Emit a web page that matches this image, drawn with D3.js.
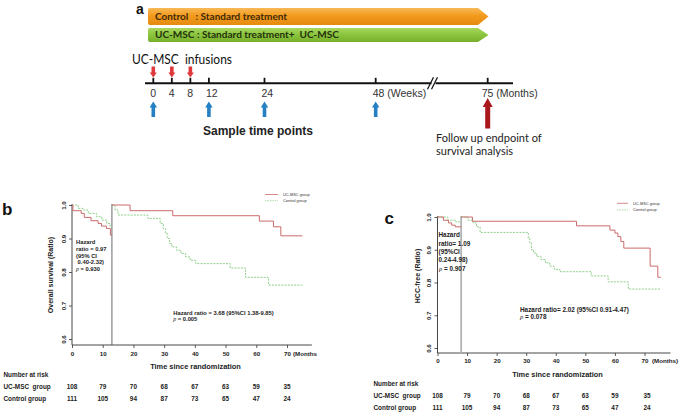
<!DOCTYPE html>
<html><head><meta charset="utf-8">
<script src="https://cdn.jsdelivr.net/npm/d3@7"></script>
<style>body{margin:0;background:#fff}svg{display:block}</style>
</head><body><svg id="chart" width="685" height="413"></svg>
<script>
// ---------- data ----------
const timelineWeeks = [0, 4, 8, 12, 24, 48];
const timelineLabels = ["0", "4", "8", "12", "24", "48 (Weeks)"];
const infusionWeeks = [0, 4, 8];
const sampleWeeks = [0, 12, 24, 48];
const endpointMonth = 75;
const endpointLabel = "75 (Months)";
const armLabels = ["Control   : Standard treatment", "UC-MSC : Standard treatment+  UC-MSC"];
const groupNames = ["UC-MSC group", "Control group"];
const riskRowNames = ["UC-MSC  group", "Control group"];
const riskTimes = [0, 10, 20, 30, 40, 50, 60, 70];
const riskUC = [108, 79, 70, 68, 67, 63, 59, 35];
const riskCtrl = [111, 105, 94, 87, 73, 65, 47, 24];
const xTicks = [0, 10, 20, 30, 40, 50, 60, 70];
const yTicks = [0.6, 0.7, 0.8, 0.9, 1.0];

// Overall survival (panel b), landmark at 13 months
const osLandmark = 13;
const osUcEarlyT = [0, 0.3, 3, 4, 6.2, 8.5, 9.6, 11.2, 12.5, 13];
const osUcEarlyS = [1, 0.983, 0.975, 0.963, 0.953, 0.945, 0.937, 0.93, 0.91, 0.91];
const osCtrlEarlyT = [0, 2, 3.6, 5.3, 8, 9.7, 11.3, 12.4, 13];
const osCtrlEarlyS = [1, 0.99, 0.985, 0.975, 0.965, 0.955, 0.945, 0.935, 0.935];
const osUcLateT = [13, 18.9, 32.8, 61, 65.6, 68, 75];
const osUcLateS = [1, 0.983, 0.968, 0.952, 0.935, 0.908, 0.908];
const osCtrlLateT = [13, 14, 15, 24.7, 28.7, 29.7, 30.5, 31, 31.8, 32.5, 34, 35.5, 37, 38.5, 40.3, 51.5, 56.5, 64, 75];
const osCtrlLateS = [1, 0.985, 0.97, 0.96, 0.945, 0.93, 0.915, 0.9, 0.885, 0.875, 0.865, 0.855, 0.845, 0.835, 0.825, 0.812, 0.784, 0.761, 0.761];

// HCC-free (panel c), landmark at 8 months
const hccLandmark = 8;
const hccUcEarlyT = [0, 2, 3.7, 4.8, 6, 8];
const hccUcEarlyS = [1, 0.99, 0.982, 0.975, 0.97, 0.97];
const hccCtrlEarlyT = [0, 3.5, 6.2, 8];
const hccCtrlEarlyS = [1, 0.99, 0.985, 0.985];
const hccUcLateT = [8, 11.8, 47, 58.3, 60, 61, 62, 63, 71.9, 74.5, 75.5];
const hccUcLateS = [1, 0.987, 0.973, 0.96, 0.951, 0.94, 0.925, 0.905, 0.85, 0.816, 0.816];
const hccCtrlLateT = [8, 10.3, 12, 13.2, 14.4, 30.7, 31.2, 31.8, 32.5, 33.5, 35, 36.5, 38, 39.5, 41.4, 52, 57.7, 64.5, 75.5];
const hccCtrlLateS = [1, 0.99, 0.982, 0.97, 0.953, 0.935, 0.92, 0.9, 0.89, 0.88, 0.87, 0.86, 0.85, 0.84, 0.833, 0.82, 0.802, 0.78, 0.78];

const osEarlyText = ["Hazard", "ratio = 0.97", "(95% CI", " 0.40-2.32)"];
const osEarlyP = "= 0.930";
const osLateText = "Hazard ratio = 3.68 (95%CI 1.38-9.85)";
const osLateP = "= 0.005";
const hccEarlyText = ["Hazard", "ratio= 1.09", "(95%CI", "0.24-4.98)"];
const hccEarlyP = "= 0.907";
const hccLateText = "Hazard ratio= 2.02 (95%CI 0.91-4.47)";
const hccLateP = "= 0.078";

// ---------- drawing ----------
const svg = d3.select("#chart");
svg.append("rect").attr("width", 685).attr("height", 413).attr("fill", "#fff");
const SANS = "'Liberation Sans', Arial, sans-serif";
const CAL = "Lato, 'Open Sans', sans-serif";
const RED = "#cc6b6b", GREEN = "#8fcf8a";

// ===== Panel a =====
const A = svg.append("g");
const defs = svg.append("defs");
function grad(id, c1, c2, c3) {
  const g = defs.append("linearGradient").attr("id", id).attr("x1", 0).attr("y1", 0).attr("x2", 0).attr("y2", 1);
  g.append("stop").attr("offset", "0%").attr("stop-color", c1);
  g.append("stop").attr("offset", "45%").attr("stop-color", c2);
  g.append("stop").attr("offset", "100%").attr("stop-color", c3);
}
grad("gO", "#f8b957", "#f39a1d", "#e58a10");
grad("gG", "#a9d75e", "#8cc63f", "#78ae2c");

const wk = d3.scaleLinear().domain([0, 48]).range([153.3, 375.7]);
const mo = d3.scaleLinear().domain([75, 76]).range([487.7, 491.2]);

A.append("text").text("a").attr("x", 136).attr("y", 14).attr("font-family", SANS)
  .attr("font-weight", "bold").attr("font-size", 14).attr("fill", "#111");

function barPath(x0, x1, tip, y0, y1) {
  const r = 2, ym = (y0 + y1) / 2;
  return `M${x0 + r},${y0} L${x1},${y0} L${tip},${ym} L${x1},${y1} L${x0 + r},${y1} Q${x0},${y1} ${x0},${y1 - r} L${x0},${y0 + r} Q${x0},${y0} ${x0 + r},${y0} Z`;
}
const bars = [{y0: 8, y1: 25, fill: "url(#gO)", tc: "#3f2a08", len: 132},
              {y0: 28, y1: 42, fill: "url(#gG)", tc: "#24310c", len: 184}];
bars.forEach((b, i) => {
  A.append("path").attr("d", barPath(148, 478, 488.5, b.y0, b.y1)).attr("fill", b.fill);
  A.append("text").text(armLabels[i]).attr("x", 155).attr("y", (b.y0 + b.y1) / 2 + 3.4)
    .attr("font-family", CAL).attr("font-weight", "bold").attr("font-size", 10)
    .attr("fill", b.tc).attr("textLength", b.len).attr("lengthAdjust", "spacingAndGlyphs")
    .style("white-space", "pre");
});

A.append("text").text("UC-MSC  infusions").attr("x", 132).attr("y", 64)
  .attr("font-family", CAL).attr("font-size", 12.5).attr("fill", "#111")
  .attr("textLength", 100).attr("lengthAdjust", "spacingAndGlyphs").style("white-space", "pre");

// timeline axis
const lineY = 83.3;
A.append("line").attr("x1", 145).attr("x2", 513).attr("y1", lineY).attr("y2", lineY)
  .attr("stroke", "#111").attr("stroke-width", 2);
// break marks
A.append("rect").attr("x", 431.5).attr("y", lineY - 2).attr("width", 4).attr("height", 4).attr("fill", "#fff");
[[-2.5], [1.5]].forEach(([dx]) => {
  A.append("line").attr("x1", 433 + dx - 3).attr("y1", lineY + 6).attr("x2", 433 + dx + 3).attr("y2", lineY - 6)
    .attr("stroke", "#111").attr("stroke-width", 1.2);
});
const tickXs = timelineWeeks.map(w => wk(w)).concat([mo(endpointMonth)]);
tickXs.forEach(x => {
  A.append("line").attr("x1", x).attr("x2", x).attr("y1", lineY - 5.5).attr("y2", lineY)
    .attr("stroke", "#111").attr("stroke-width", 1.8);
});
timelineWeeks.forEach((w, i) => {
  A.append("text").text(timelineLabels[i]).attr("x", wk(w) - 3).attr("y", 97)
    .attr("font-family", SANS).attr("font-size", 10.5).attr("fill", "#333");
});
A.append("text").text(endpointLabel).attr("x", mo(endpointMonth) - 6).attr("y", 97)
  .attr("font-family", SANS).attr("font-size", 10.5).attr("fill", "#333");

function arrow(cx, yTip, yTail, headW, headH, shaftW, fill) {
  const dir = yTail > yTip ? 1 : -1;
  const yh = yTip + dir * headH;
  const p = `M${cx},${yTip} L${cx + headW / 2},${yh} L${cx + shaftW / 2},${yh} L${cx + shaftW / 2},${yTail} L${cx - shaftW / 2},${yTail} L${cx - shaftW / 2},${yh} L${cx - headW / 2},${yh} Z`;
  A.append("path").attr("d", p).attr("fill", fill);
}
infusionWeeks.forEach(w => arrow(wk(w), 77.5, 66.5, 7, 5, 3.6, "#e0393b"));
sampleWeeks.forEach(w => arrow(wk(w), 101.5, 117, 7.5, 6, 3.6, "#2580c3"));
arrow(mo(endpointMonth), 98, 128.5, 10, 9, 5, "#a8181c");

A.append("text").text("Sample time points").attr("x", 203).attr("y", 135)
  .attr("font-family", SANS).attr("font-weight", "bold").attr("font-size", 12).attr("fill", "#222");
A.append("text").text("Follow up endpoint of").attr("x", 436).attr("y", 141.5)
  .attr("font-family", CAL).attr("font-size", 11).attr("fill", "#222");
A.append("text").text("survival analysis").attr("x", 436).attr("y", 155)
  .attr("font-family", CAL).attr("font-size", 11).attr("fill", "#222");

// ===== KM panels =====
function toPts(T, S) { return T.map((t, i) => ({t: t, s: S[i]})); }

function drawKM(cfg) {
  const g = svg.append("g");
  const x = d3.scaleLinear().domain([0, 70]).range(cfg.xr);
  const y = d3.scaleLinear().domain([0.6, 1.0]).range(cfg.yr);
  const axCol = "#333";
  g.append("text").text(cfg.letter).attr("x", cfg.letterPos[0]).attr("y", cfg.letterPos[1])
    .attr("font-family", SANS).attr("font-weight", "bold").attr("font-size", 17).attr("fill", "#111");
  g.append("line").attr("x1", x(0)).attr("x2", x(0)).attr("y1", y(1.0) - 1).attr("y2", cfg.axisY)
    .attr("stroke", axCol).attr("stroke-width", 0.9);
  g.append("line").attr("x1", x(0)).attr("x2", x(cfg.xEnd)).attr("y1", cfg.axisY).attr("y2", cfg.axisY)
    .attr("stroke", axCol).attr("stroke-width", 0.9);
  const ya = g.append("g").attr("transform", `translate(${x(0)},0)`)
    .call(d3.axisLeft(y).tickValues(yTicks).tickSize(3).tickFormat(d3.format(".1f")));
  ya.select(".domain").remove();
  ya.selectAll("line").attr("stroke", axCol).attr("stroke-width", 0.8);
  ya.selectAll("text").attr("transform", "rotate(-90)").attr("x", 0).attr("y", -6.3).attr("dy", 0)
    .attr("text-anchor", "middle").attr("font-family", SANS).attr("font-weight", "bold")
    .attr("font-size", 6.2).attr("fill", "#222");
  const xa = g.append("g").attr("transform", `translate(0,${cfg.axisY})`)
    .call(d3.axisBottom(x).tickValues(xTicks).tickSize(3).tickFormat(d => d));
  xa.select(".domain").remove();
  xa.selectAll("line").attr("stroke", axCol).attr("stroke-width", 0.8);
  xa.selectAll("text").attr("y", cfg.tickLabDy).attr("dy", 0).attr("font-family", SANS)
    .attr("font-weight", "bold").attr("font-size", 6.2).attr("fill", "#222");
  g.append("text").text(cfg.monthsLabel).attr("x", x(70) + cfg.monthsDx).attr("y", cfg.axisY + cfg.tickLabDy)
    .attr("font-family", SANS).attr("font-weight", "bold").attr("font-size", 6.2).attr("fill", "#222");
  g.append("text").text("Time since randomization").attr("x", cfg.xTitle[0]).attr("y", cfg.xTitle[1])
    .attr("text-anchor", "middle").attr("font-family", SANS).attr("font-weight", "bold")
    .attr("font-size", 7.4).attr("fill", "#222");
  g.append("text").text(cfg.yTitle).attr("transform", `translate(${cfg.yTitlePos[0]},${cfg.yTitlePos[1]}) rotate(-90)`)
    .attr("text-anchor", "middle").attr("font-family", SANS).attr("font-weight", "bold")
    .attr("font-size", 7).attr("fill", "#222");
  g.append("line").attr("x1", x(cfg.landmark)).attr("x2", x(cfg.landmark)).attr("y1", y(1.0) - 1)
    .attr("y2", cfg.axisY).attr("stroke", cfg.lmColor).attr("stroke-width", cfg.lmWidth);
  const line = d3.line().x(d => x(d.t)).y(d => y(d.s)).curve(d3.curveStepAfter);
  cfg.curves.forEach(c => {
    g.append("path").datum(c.pts).attr("d", line).attr("fill", "none")
      .attr("stroke", c.ctrl ? GREEN : RED).attr("stroke-width", 1)
      .attr("stroke-dasharray", c.ctrl ? "2,1.2" : null);
  });
  groupNames.forEach((nm, i) => {
    const ly = cfg.legend[1] + i * cfg.legendGap;
    g.append("line").attr("x1", cfg.legend[0]).attr("x2", cfg.legend[0] + cfg.legendLen)
      .attr("y1", ly).attr("y2", ly).attr("stroke", i ? GREEN : RED).attr("stroke-width", 0.8)
      .attr("stroke-dasharray", i ? "1.5,1" : null);
    g.append("text").text(nm).attr("x", cfg.legend[0] + cfg.legendLen + 5).attr("y", ly + 1.3)
      .attr("font-family", SANS).attr("font-size", 3.9).attr("fill", "#333");
  });
  const fs = cfg.annFs;
  cfg.earlyText.forEach((t, i) => {
    g.append("text").text(t).attr("x", cfg.early[0]).attr("y", cfg.early[1] + i * cfg.earlyGap)
      .attr("font-family", SANS).attr("font-weight", "bold").attr("font-size", fs).attr("fill", "#222")
      .style("white-space", "pre");
  });
  const pe = g.append("text").attr("x", cfg.early[0] + cfg.pIndent).attr("y", cfg.early[1] + 4 * cfg.earlyGap)
    .attr("font-family", SANS).attr("font-weight", "bold").attr("font-size", fs).attr("fill", "#222");
  pe.append("tspan").text("p").attr("font-family", "'Liberation Serif', serif").attr("font-style", "italic").attr("font-weight", "normal");
  pe.append("tspan").text(" " + cfg.earlyP);
  g.append("text").text(cfg.lateText).attr("x", cfg.late[0]).attr("y", cfg.late[1])
    .attr("font-family", SANS).attr("font-weight", "bold").attr("font-size", fs).attr("fill", "#222");
  const pl = g.append("text").attr("x", cfg.late[0]).attr("y", cfg.late[1] + cfg.lateGap)
    .attr("font-family", SANS).attr("font-weight", "bold").attr("font-size", fs).attr("fill", "#222");
  pl.append("tspan").text("p").attr("font-family", "'Liberation Serif', serif").attr("font-style", "italic").attr("font-weight", "normal");
  pl.append("tspan").text(" " + cfg.lateP);
  const rs = 6.4;
  g.append("text").text("Number at risk").attr("x", cfg.riskX).attr("y", cfg.riskY[0])
    .attr("font-family", SANS).attr("font-weight", "bold").attr("font-size", rs).attr("fill", "#222");
  [riskUC, riskCtrl].forEach((row, r) => {
    g.append("text").text(riskRowNames[r]).attr("x", cfg.riskX).attr("y", cfg.riskY[r + 1])
      .attr("font-family", SANS).attr("font-weight", "bold").attr("font-size", rs).attr("fill", "#222")
      .style("white-space", "pre");
    row.forEach((v, j) => {
      g.append("text").text(v).attr("x", x(riskTimes[j]) + (j === 7 ? cfg.lastNudge : 0)).attr("y", cfg.riskY[r + 1])
        .attr("text-anchor", "middle").attr("font-family", SANS).attr("font-weight", "bold")
        .attr("font-size", rs).attr("fill", "#222");
    });
  });
}

drawKM({
  letter: "b", letterPos: [2, 215],
  xr: [72, 287], yr: [339, 205], axisY: 345, xEnd: 78.1,
  tickLabDy: 10.5, monthsLabel: "(Months", monthsDx: 6,
  xTitle: [195.5, 368.5], yTitle: "Overall survival (Ratio)", yTitlePos: [52.5, 275],
  landmark: osLandmark, lmColor: "#444", lmWidth: 0.8,
  curves: [
    {pts: toPts(osCtrlEarlyT, osCtrlEarlyS), ctrl: true},
    {pts: toPts(osCtrlLateT, osCtrlLateS), ctrl: true},
    {pts: toPts(osUcEarlyT, osUcEarlyS), ctrl: false},
    {pts: toPts(osUcLateT, osUcLateS), ctrl: false}],
  legend: [265, 194.5], legendGap: 6.2, legendLen: 13,
  annFs: 5.8, earlyText: osEarlyText, early: [76, 243.7], earlyGap: 6.9, pIndent: 0, earlyP: osEarlyP,
  lateText: osLateText, late: [173.3, 314.5], lateP: osLateP, lateGap: 6.3,
  riskX: 3.5, riskY: [376.5, 388.5, 400.7], lastNudge: 0
});

drawKM({
  letter: "c", letterPos: [384.5, 223.5],
  xr: [437.5, 644.5], yr: [348, 217], axisY: 353, xEnd: 78.8,
  tickLabDy: 10.3, monthsLabel: "(Months)", monthsDx: 7.5,
  xTitle: [557.5, 376.5], yTitle: "HCC-free (Ratio)", yTitlePos: [419.5, 276],
  landmark: hccLandmark, lmColor: "#b3b3b3", lmWidth: 1.8,
  curves: [
    {pts: toPts(hccCtrlEarlyT, hccCtrlEarlyS), ctrl: true},
    {pts: toPts(hccCtrlLateT, hccCtrlLateS), ctrl: true},
    {pts: toPts(hccUcEarlyT, hccUcEarlyS), ctrl: false},
    {pts: toPts(hccUcLateT, hccUcLateS), ctrl: false}],
  legend: [617, 203.3], legendGap: 6.7, legendLen: 11,
  annFs: 6.4, earlyText: hccEarlyText, early: [438.5, 237.3], earlyGap: 8.3, pIndent: 0.5, earlyP: hccEarlyP,
  lateText: hccLateText, late: [520, 311.5], lateP: hccLateP, lateGap: 7.6,
  riskX: 373.5, riskY: [385.8, 397.5, 409.8], lastNudge: 2.5
});
</script></body></html>
